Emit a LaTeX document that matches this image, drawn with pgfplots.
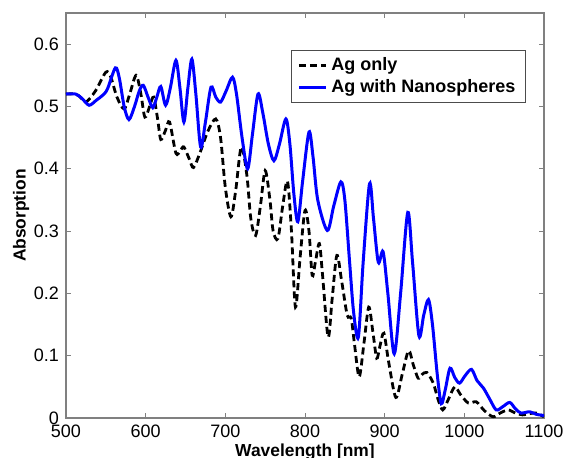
\documentclass[border=0pt]{standalone}
\usepackage{pgfplots}
\pgfplotsset{compat=1.18}
\usepackage{fontspec}
\setmainfont{Liberation Sans}
\definecolor{axgray}{RGB}{128,128,128}
\definecolor{mblue}{RGB}{0,0,255}
\begin{document}
\begin{tikzpicture}
\useasboundingbox (-33pt,-19.5pt) rectangle (250pt,209pt);
\clip (-33pt,-19.5pt) rectangle (250pt,209pt);
\begin{axis}[
  scale only axis,
  width=239pt, height=202.5pt,
  xmin=500, xmax=1100, ymin=0, ymax=0.65,
  xtick={500,600,700,800,900,1000,1100},
  ytick={0,0.1,0.2,0.3,0.4,0.5,0.6},
  yticklabels={0,0.1,0.2,0.3,0.4,0.5,0.6},
  /pgf/number format/assume math mode=true,
  /pgf/number format/1000 sep={},
  tick label style={font=\fontsize{9}{10}\selectfont, text=black},
  tick align=inside,
  tick pos=both,
  major tick length=2.5pt,
  tick style={axgray, line width=0.5pt},
  axis line style={axgray, line width=0.6pt},
  xlabel={Wavelength [nm]},
  ylabel={Absorption},
  label style={font=\bfseries\fontsize{8.7}{10}\selectfont},
  xlabel style={at={(axis description cs:0.5,0)}, yshift=-12.8pt, anchor=north, inner sep=0pt},
  ylabel style={at={(axis description cs:-0.094,0.5)}, anchor=center},
  legend style={at={(0.962,0.909)}, anchor=north east, draw=black!70, line width=0.5pt,
    font=\bfseries\fontsize{9}{10}\selectfont, inner xsep=3pt, inner ysep=1.5pt,
    row sep=-1pt},
  legend cell align=left,
  legend image code/.code={\draw[#1] (0pt,0pt) -- (13.5pt,0pt);},
]
\addplot[black, line width=1.4pt, dash pattern=on 3.5pt off 2pt, smooth, tension=0.5] coordinates {
(500,0.520)(512,0.520)(518,0.515)(525,0.507)(537,0.525)(550,0.555)(556,0.548)
(564,0.515)(573,0.496)(580,0.520)(588,0.550)(594,0.520)(599,0.483)(605,0.500)
(610,0.515)(615,0.480)(619,0.447)(625,0.462)(630,0.475)(638,0.425)(644,0.430)
(648,0.435)(655,0.415)(660,0.402)(668,0.425)(678,0.460)(688,0.480)(694,0.450)
(700,0.370)(707,0.323)(713,0.365)(720,0.435)(727,0.390)(732,0.320)(738,0.293)
(744,0.340)(750,0.397)(756,0.350)(760,0.300)(766,0.288)(772,0.340)(778,0.380)
(783,0.300)(788,0.178)(794,0.260)(800,0.333)(805,0.300)(809,0.229)(813,0.250)
(818,0.280)(822,0.230)(829,0.130)(834,0.190)(840,0.261)(846,0.220)(853,0.165)
(858,0.160)(862,0.120)(868,0.066)(874,0.120)(880,0.178)(885,0.140)(890,0.096)
(894,0.115)(899,0.136)(905,0.090)(914,0.033)(922,0.070)(930,0.108)(936,0.085)
(942,0.064)(947,0.070)(953,0.073)(961,0.056)(967,0.030)(973,0.013)(980,0.030)
(988,0.050)(995,0.038)(1005,0.024)(1015,0.026)(1025,0.012)(1036,0.002)(1045,0.008)
(1055,0.013)(1064,0.008)(1073,0.005)(1082,0.007)(1090,0.008)(1100,0.002)
};
\addlegendentry{Ag only}
\addplot[mblue, line width=1.5pt, smooth, tension=0.5] coordinates {
(500,0.520)(512,0.520)(520,0.513)(529,0.502)(538,0.510)(546,0.518)(552,0.528)
(562,0.562)(567,0.545)(573,0.500)(579,0.479)(586,0.500)(592,0.525)(597,0.534)
(603,0.515)(609,0.498)(614,0.515)(619,0.532)(625,0.502)(631,0.530)(638,0.574)
(643,0.530)(648,0.475)(653,0.530)(658,0.576)(663,0.520)(669,0.435)(675,0.475)
(682,0.531)(688,0.515)(694,0.507)(701,0.525)(709,0.547)(714,0.520)(721,0.450)
(728,0.400)(734,0.455)(741,0.520)(747,0.490)(754,0.440)(761,0.413)(768,0.440)
(776,0.480)(781,0.440)(786,0.360)(791,0.315)(797,0.380)(805,0.459)(810,0.420)
(816,0.350)(828,0.301)(836,0.340)(845,0.379)(850,0.350)(856,0.250)(861,0.170)
(867,0.130)(873,0.250)(881,0.376)(886,0.320)(892,0.250)(898,0.267)(904,0.200)
(912,0.103)(920,0.200)(929,0.330)(935,0.250)(943,0.132)(949,0.165)(955,0.190)
(960,0.150)(966,0.070)(971,0.023)(976,0.045)(982,0.080)(988,0.065)(994,0.056)
(1001,0.068)(1009,0.078)(1016,0.060)(1024,0.048)(1032,0.030)(1040,0.013)(1048,0.018)
(1057,0.025)(1064,0.015)(1071,0.008)(1082,0.010)(1090,0.006)(1100,0.004)
};
\addlegendentry{Ag with Nanospheres}
\end{axis}
\end{tikzpicture}
\end{document}
